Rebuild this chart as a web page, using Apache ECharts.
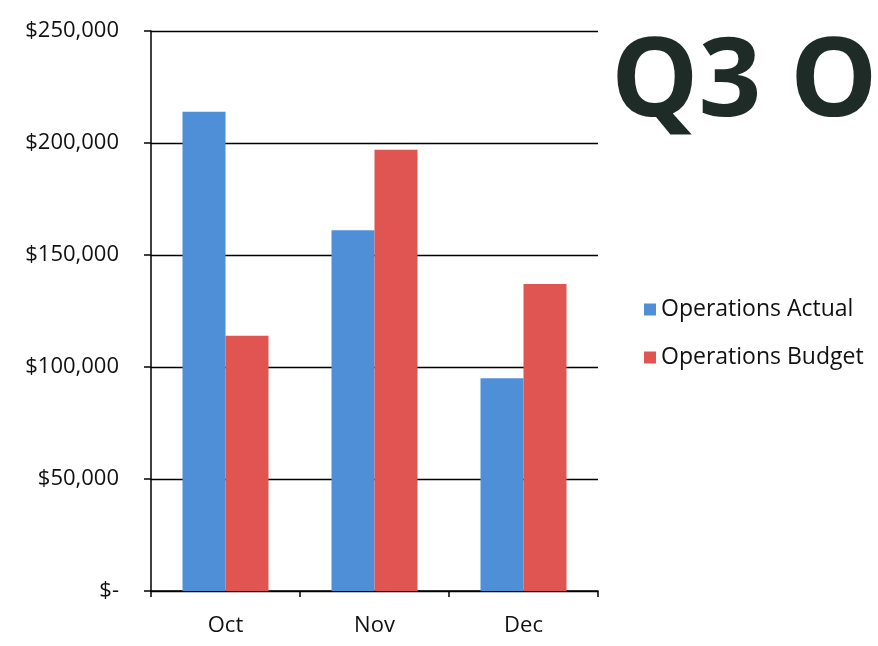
<!DOCTYPE html>
<html>
<head>
<meta charset="utf-8">
<script src="https://cdn.jsdelivr.net/npm/echarts@6/dist/echarts.min.js"></script>
<style>
html,body{margin:0;padding:0;background:#fff;}
#c{width:878px;height:646px;}
</style>
</head>
<body>
<div id="c"></div>
<script>
var categories = ['Oct', 'Nov', 'Dec'];
var actualValues = [214000, 161000, 95000];
var budgetValues = [114000, 197000, 137000];
var seriesNames = ['Operations Actual', 'Operations Budget'];
var titleText = 'Q3 O';

var chart = echarts.init(document.getElementById('c'));
chart.setOption({
  backgroundColor: '#fff',
  animation: false,
  title: {
    text: titleText,
    left: 606,
    top: 25,
    textStyle: { fontFamily: 'Open Sans', fontWeight: 'bold', fontSize: 110, color: '#1f2b27' }
  },
  legend: {
    orient: 'vertical',
    left: 639,
    top: 293,
    itemWidth: 12,
    itemHeight: 12,
    itemGap: 25,
    icon: 'rect',
    textStyle: { fontFamily: 'Open Sans', fontSize: 23, color: '#111' },
    data: seriesNames
  },
  grid: { left: 151, right: 280, top: 31, bottom: 55 },
  xAxis: {
    type: 'category',
    data: categories,
    axisLine: { lineStyle: { color: '#000', width: 1.5 } },
    axisTick: { show: true, length: 6, inside: false, lineStyle: { color: '#000', width: 1.5 } },
    axisLabel: { fontFamily: 'Open Sans', fontSize: 22, color: '#111', margin: 24 }
  },
  yAxis: {
    type: 'value',
    min: 0,
    max: 250000,
    interval: 50000,
    axisLine: { show: true, lineStyle: { color: '#000', width: 1.5 } },
    axisTick: { show: true, length: 7, lineStyle: { color: '#000', width: 1.5 } },
    splitLine: { show: true, lineStyle: { color: '#000', width: 1.3 } },
    axisLabel: {
      fontFamily: 'Open Sans', fontSize: 22, color: '#111', margin: 32,
      formatter: function (v) {
        if (v === 0) return '$-';
        return '$' + v.toString().replace(/\B(?=(\d{3})+(?!\d))/g, ',');
      }
    }
  },
  series: [
    {
      name: seriesNames[0], type: 'bar', data: actualValues,
      barWidth: 43, barGap: '0%',
      itemStyle: { color: '#4f8fd8' }
    },
    {
      name: seriesNames[1], type: 'bar', data: budgetValues,
      barWidth: 43, barGap: '0%',
      itemStyle: { color: '#e05551' }
    }
  ]
});
</script>
</body>
</html>
